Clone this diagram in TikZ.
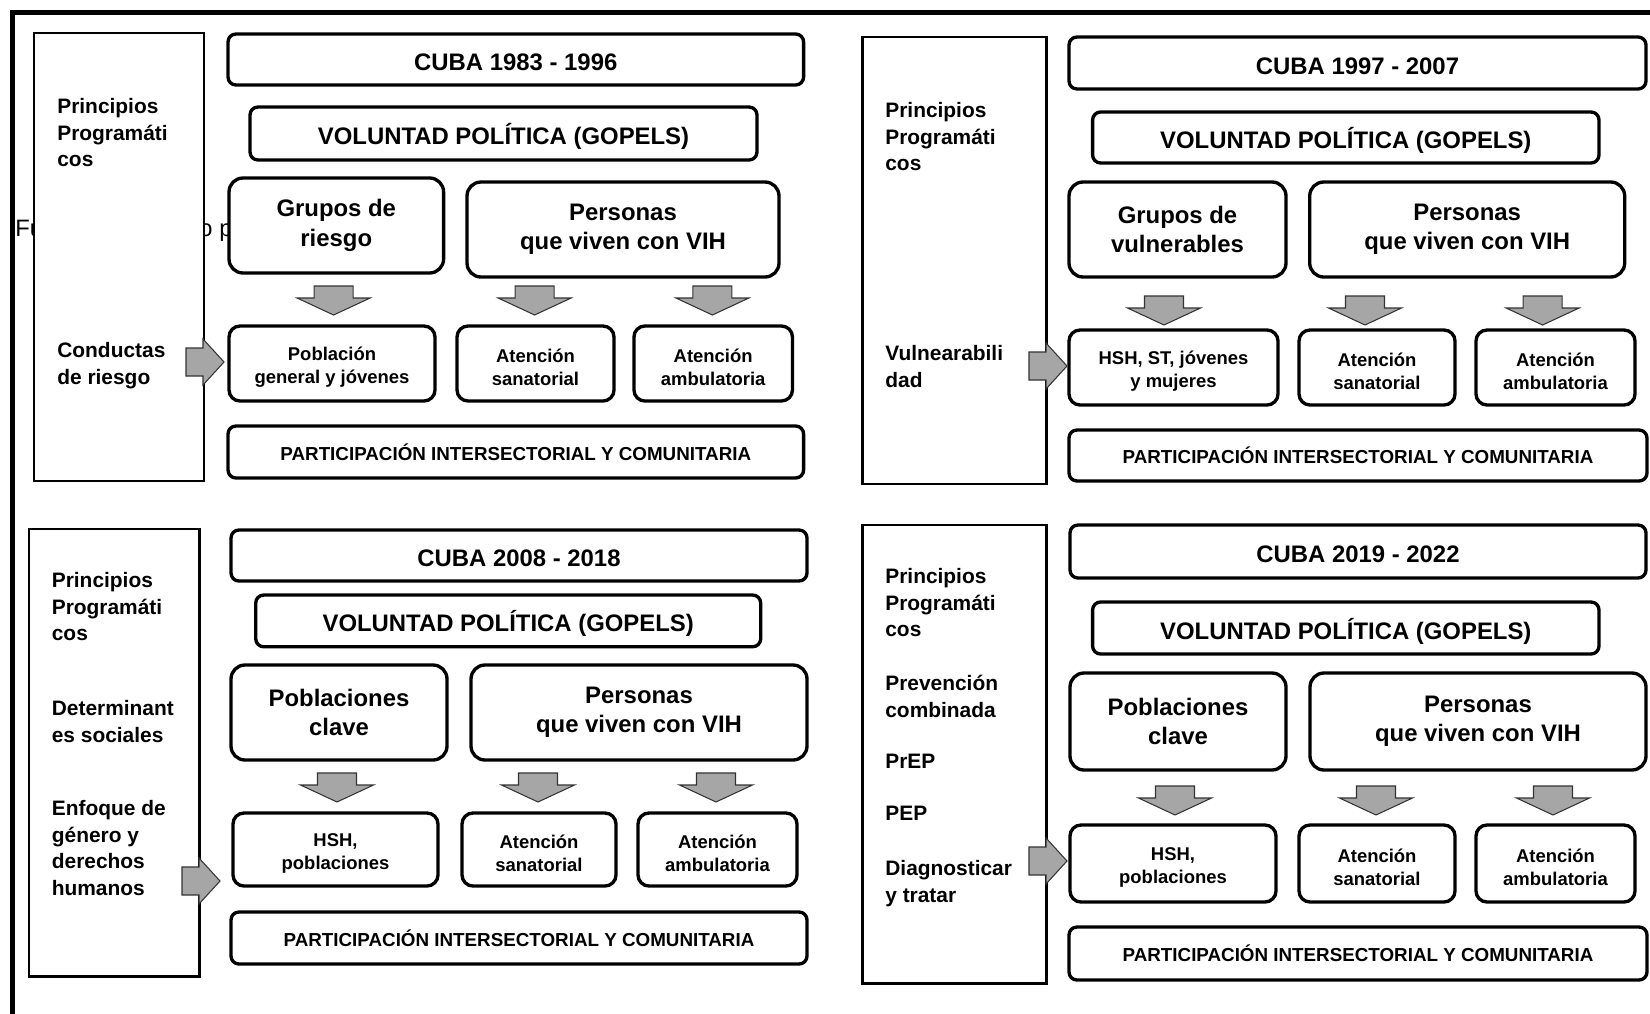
\documentclass[tikz,border=0pt]{standalone}
\usepackage{fontspec}
\setmainfont{Liberation Sans}

\newlength{\pxu}
\setlength{\pxu}{0.02cm}
\newcommand{\topstrut}{\rule{0pt}{21\pxu}}

\tikzset{
  basebox/.style={draw, line width=1.9pt, rounded corners=8\pxu, fill=white, inner sep=0pt, align=center},
  headbox/.style={basebox, text height=22\pxu, text depth=0pt, font=\bfseries\fontsize{13.6}{16.7}\selectfont},
  groupbox/.style={basebox, rounded corners=14\pxu, font=\bfseries\fontsize{13.6}{16.7}\selectfont},
  carebox/.style={basebox, rounded corners=11\pxu, font=\bfseries\fontsize{10.5}{13}\selectfont},
  partbox/.style={basebox, font=\bfseries\fontsize{10.7}{12.5}\selectfont},
  sidebox/.style={draw, line width=1.7pt, fill=white, inner sep=0pt},
  sidetext/.style={anchor=north west, inner sep=0pt, align=left,
    font=\bfseries\fontsize{11.9}{15.1}\selectfont},
  srctext/.style={anchor=base west, inner sep=0pt, font=\fontsize{13.5}{16}\selectfont},
  blockarrow/.style={draw=black!80, line width=0.6pt, fill=black!35},
}

% block arrow pointing down, tip at (#1,#2)
\newcommand{\arrowdown}[2]{%
  \draw[blockarrow] (#1,#2) -- ++(36.5,-17) -- ++(-17,0) -- ++(0,-12) -- ++(-39,0)
    -- ++(0,12) -- ++(-17,0) -- cycle;}
% block arrow pointing right, head base at (#1,#2)
\newcommand{\arrowright}[2]{%
  \draw[blockarrow] (#1+21,#2) -- ++(-21,-23) -- ++(0,9) -- ++(-17,0) -- ++(0,28)
    -- ++(17,0) -- ++(0,9) -- cycle;}

\begin{document}
\begin{tikzpicture}[x=0.02cm, y=-0.02cm]
\useasboundingbox (0,0) rectangle (1650,1014);

% frame and caption underneath
\draw[line width=2.8pt] (1650,12.5) -- (12.5,12.5) -- (12.5,1014);
\node[srctext] (src) at (15,236) {Fuente: Elaborado por los autores};

% CUBA 1983 - 1996
\node[sidebox, minimum width=170\pxu, minimum height=448\pxu] (lp1) at (119,257) {};
\node[sidetext] (lp1a) at (57,98) {Principios\\Programáti\\cos};
\node[sidetext] (lp1b) at (57,342) {Conductas\\de riesgo};
\node[headbox, minimum width=575.6\pxu, minimum height=51\pxu] (t1) at (515.8,59.5) {CUBA 1983 - 1996};
\node[headbox, minimum width=507\pxu, minimum height=53\pxu] (v1) at (503.5,133.5) {VOLUNTAD POLÍTICA (GOPELS)};
\node[groupbox, minimum width=214.6\pxu, minimum height=95\pxu] (g1) at (336.3,225.5) {Grupos de\\riesgo};
\node[groupbox, minimum width=312\pxu, minimum height=95\pxu] (pp1) at (623,229.5) {Personas\\que viven con VIH};
\node[carebox, minimum width=206\pxu, minimum height=75\pxu] (b1) at (332,363.5) {\topstrut Población\\general y jóvenes};
\node[carebox, minimum width=157\pxu, minimum height=75\pxu] (s1) at (535.5,363.5) {\topstrut Atención\\sanatorial};
\node[carebox, minimum width=158.5\pxu, minimum height=75\pxu] (m1) at (713.2,363.5) {\topstrut Atención\\ambulatoria};
\node[partbox, minimum width=575.6\pxu, minimum height=52\pxu] (c1) at (515.8,452) {PARTICIPACIÓN INTERSECTORIAL Y COMUNITARIA};
\arrowdown{333.6}{315}
\arrowdown{534.6}{315}
\arrowdown{712.4}{315}
\arrowright{203}{362}

% CUBA 1997 - 2007
\node[sidebox, minimum width=184.6\pxu, minimum height=447\pxu] (lp2) at (954.3,260.5) {};
\node[sidetext] (lp2a) at (885,102) {Principios\\Programáti\\cos};
\node[sidetext] (lp2b) at (885,345) {Vulnearabili\\dad};
\node[headbox, minimum width=577\pxu, minimum height=52\pxu] (t2) at (1357.5,63) {CUBA 1997 - 2007};
\node[headbox, minimum width=506.4\pxu, minimum height=51\pxu] (v2) at (1345.8,137.5) {VOLUNTAD POLÍTICA (GOPELS)};
\node[groupbox, minimum width=217\pxu, minimum height=95\pxu] (g2) at (1177.5,229.5) {Grupos de\\vulnerables};
\node[groupbox, minimum width=315\pxu, minimum height=95\pxu] (pp2) at (1467.2,229.5) {Personas\\que viven con VIH};
\node[carebox, minimum width=209\pxu, minimum height=75\pxu] (b2) at (1173.5,367.5) {\topstrut HSH, ST, jóvenes\\y mujeres};
\node[carebox, minimum width=156\pxu, minimum height=75\pxu] (s2) at (1377,367.5) {\topstrut Atención\\sanatorial};
\node[carebox, minimum width=159\pxu, minimum height=75\pxu] (m2) at (1555.5,367.5) {\topstrut Atención\\ambulatoria};
\node[partbox, minimum width=578\pxu, minimum height=51\pxu] (c2) at (1358,455.5) {PARTICIPACIÓN INTERSECTORIAL Y COMUNITARIA};
\arrowdown{1164}{325}
\arrowdown{1365}{325}
\arrowdown{1542.6}{325}
\arrowright{1046}{366}

% CUBA 2008 - 2018
\node[sidebox, minimum width=170.6\pxu, minimum height=447\pxu] (lp3) at (114.3,752.5) {};
\node[sidetext] (lp3a) at (51.5,572) {Principios\\Programáti\\cos};
\node[sidetext] (lp3b) at (51.5,700) {Determinant\\es sociales};
\node[sidetext] (lp3c) at (51.5,800) {Enfoque de\\género y\\derechos\\humanos};
\node[headbox, minimum width=576\pxu, minimum height=51\pxu] (t3) at (519,555.5) {CUBA 2008 - 2018};
\node[headbox, minimum width=505\pxu, minimum height=51.7\pxu] (v3) at (508.2,620.9) {VOLUNTAD POLÍTICA (GOPELS)};
\node[groupbox, minimum width=216\pxu, minimum height=95\pxu] (g3) at (339,712.5) {Poblaciones\\clave};
\node[groupbox, minimum width=336\pxu, minimum height=95\pxu] (pp3) at (639,712.5) {Personas\\que viven con VIH};
\node[carebox, minimum width=205\pxu, minimum height=73\pxu] (b3) at (335.5,849.5) {\topstrut HSH,\\poblaciones};
\node[carebox, minimum width=154\pxu, minimum height=73\pxu] (s3) at (539,849.5) {\topstrut Atención\\sanatorial};
\node[carebox, minimum width=159\pxu, minimum height=73\pxu] (m3) at (717.5,849.5) {\topstrut Atención\\ambulatoria};
\node[partbox, minimum width=576\pxu, minimum height=52\pxu] (c3) at (519,938) {PARTICIPACIÓN INTERSECTORIAL Y COMUNITARIA};
\arrowdown{337}{802}
\arrowdown{538}{802}
\arrowdown{716}{802}
\arrowright{199}{881}

% CUBA 2019 - 2022
\node[sidebox, minimum width=184.6\pxu, minimum height=458\pxu] (lp4) at (954.3,754) {};
\node[sidetext] (lp4a) at (885,568) {Principios\\Programáti\\cos};
\node[sidetext] (lp4b) at (885,675) {Prevención\\combinada};
\node[sidetext] (lp4c) at (885,754) {PrEP};
\node[sidetext] (lp4d) at (885,806) {PEP};
\node[sidetext] (lp4e) at (885,860) {Diagnosticar\\y tratar};
\node[headbox, minimum width=576\pxu, minimum height=53\pxu] (t4) at (1358,551.5) {CUBA 2019 - 2022};
\node[headbox, minimum width=506.4\pxu, minimum height=52\pxu] (v4) at (1345.8,628) {VOLUNTAD POLÍTICA (GOPELS)};
\node[groupbox, minimum width=216\pxu, minimum height=97\pxu] (g4) at (1178,721.5) {Poblaciones\\clave};
\node[groupbox, minimum width=336\pxu, minimum height=97\pxu] (pp4) at (1478,721.5) {Personas\\que viven con VIH};
\node[carebox, minimum width=206\pxu, minimum height=77\pxu] (b4) at (1173,863.5) {\topstrut HSH,\\poblaciones};
\node[carebox, minimum width=156\pxu, minimum height=77\pxu] (s4) at (1377,863.5) {\topstrut Atención\\sanatorial};
\node[carebox, minimum width=159\pxu, minimum height=77\pxu] (m4) at (1555.5,863.5) {\topstrut Atención\\ambulatoria};
\node[partbox, minimum width=578\pxu, minimum height=53\pxu] (c4) at (1358,953.5) {PARTICIPACIÓN INTERSECTORIAL Y COMUNITARIA};
\arrowdown{1175}{815}
\arrowdown{1376}{815}
\arrowdown{1553}{815}
\arrowright{1046}{861}

\end{tikzpicture}
\end{document}
